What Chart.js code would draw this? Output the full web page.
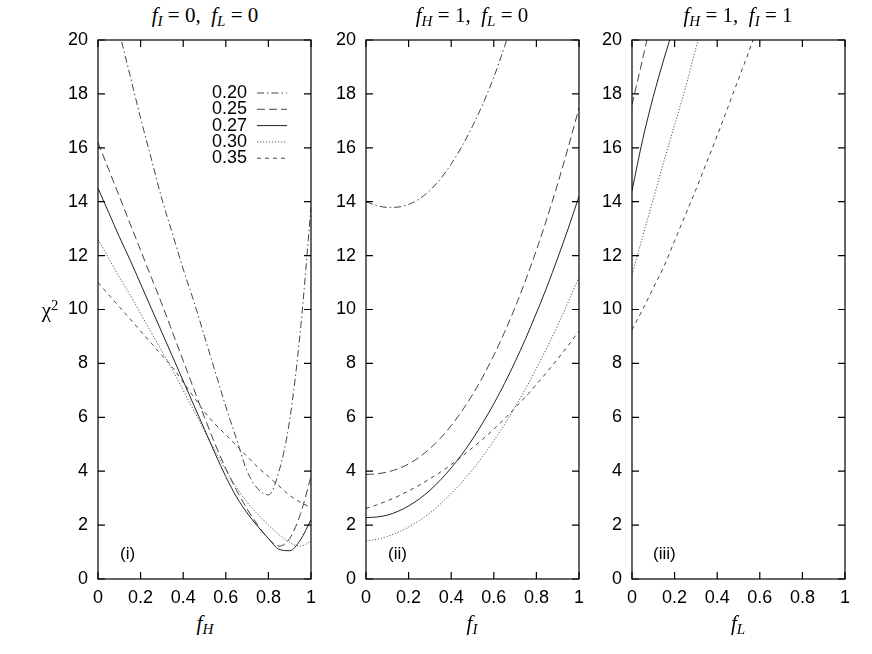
<!DOCTYPE html>
<html>
<head>
<meta charset="utf-8">
<script src="https://cdn.jsdelivr.net/npm/chart.js@4.4.1/dist/chart.umd.min.js"></script>
<style>
  html, body { margin: 0; padding: 0; background: #fff; }
  #wrap { position: relative; width: 872px; height: 654px; overflow: hidden; }
  #wrap canvas { position: absolute; top: 30px; }
  .lbl { position: absolute; transform: translate(-50%, -50%); white-space: nowrap; line-height: 1;
         font-family: "Liberation Serif", "DejaVu Serif", serif; font-size: 21px; color: #000; }
  .lbl sub { font-size: 0.72em; vertical-align: -0.32em; line-height: 0; }
  .lbl sup { font-size: 0.7em; vertical-align: 0.45em; line-height: 0; }
  .tag { position: absolute; transform: translate(0, -50%); line-height: 1;
         font-family: "Liberation Sans", Arial, sans-serif; font-size: 17px; color: #000; }
</style>
</head>
<body>
<div id="wrap">
  <canvas id="c1" width="273" height="579" style="left:53px"></canvas>
  <canvas id="c2" width="273" height="579" style="left:321px"></canvas>
  <canvas id="c3" width="273" height="579" style="left:587px"></canvas>

  <div class="lbl" style="left:205px;top:15px"><i>f</i><sub><i>I</i></sub> = 0,&nbsp; <i>f</i><sub><i>L</i></sub> = 0</div>
  <div class="lbl" style="left:472px;top:15px"><i>f</i><sub><i>H</i></sub> = 1,&nbsp; <i>f</i><sub><i>L</i></sub> = 0</div>
  <div class="lbl" style="left:738px;top:15px"><i>f</i><sub><i>H</i></sub> = 1,&nbsp; <i>f</i><sub><i>I</i></sub> = 1</div>

  <div class="lbl" style="left:205px;top:623px"><i>f</i><sub><i>H</i></sub></div>
  <div class="lbl" style="left:472px;top:623px"><i>f</i><sub><i>I</i></sub></div>
  <div class="lbl" style="left:738px;top:623px"><i>f</i><sub><i>L</i></sub></div>

  <div class="lbl" style="left:50px;top:310px">&chi;<sup>2</sup></div>

  <div class="tag" style="left:120px;top:553px">(i)</div>
  <div class="tag" style="left:388px;top:553px">(ii)</div>
  <div class="tag" style="left:653px;top:553px">(iii)</div>
</div>
<script>
// x positions shared by every curve
const xs = [0, 0.05, 0.1, 0.15, 0.2, 0.25, 0.3, 0.35, 0.4, 0.45, 0.5,
            0.55, 0.6, 0.65, 0.7, 0.75, 0.8, 0.85, 0.9, 0.95, 1];

// panel (i): chi2 vs f_H
const fH_020 = [23.6, 22.0, 20.3, 18.7, 17.1, 15.6, 14.1, 12.8, 11.5, 10.3, 9.0, 7.7, 6.4, 5.2, 4.0, 3.35, 3.12, 4.0, 5.9, 9.2, 13.8];
const fH_025 = [16.2, 15.2, 14.2, 13.2, 12.2, 11.2, 10.2, 9.15, 8.1, 7.05, 6.0, 5.0, 4.1, 3.3, 2.6, 2.0, 1.5, 1.22, 1.5, 2.4, 3.8];
const fH_027 = [14.5, 13.6, 12.7, 11.85, 10.95, 10.05, 9.15, 8.25, 7.35, 6.45, 5.55, 4.65, 3.8, 3.05, 2.45, 1.95, 1.5, 1.1, 1.05, 1.45, 2.2];
const fH_030 = [12.6, 11.9, 11.2, 10.55, 9.85, 9.15, 8.45, 7.75, 7.0, 6.25, 5.5, 4.75, 4.05, 3.4, 2.85, 2.4, 2.0, 1.65, 1.35, 1.22, 1.4];
const fH_035 = [11.0, 10.55, 10.1, 9.65, 9.2, 8.75, 8.3, 7.85, 7.3, 6.75, 6.2, 5.75, 5.35, 4.95, 4.55, 4.15, 3.8, 3.45, 3.1, 2.85, 2.65];

// panel (ii): chi2 vs f_I
const fI_020 = [14.0, 13.86, 13.79, 13.8, 13.9, 14.1, 14.42, 14.85, 15.4, 16.05, 16.8, 17.65, 18.62, 19.75, 21.0, null, null, null, null, null, null];
const fI_025 = [3.88, 3.9, 3.97, 4.09, 4.27, 4.52, 4.84, 5.23, 5.69, 6.23, 6.84, 7.53, 8.3, 9.15, 10.08, 11.1, 12.2, 13.39, 14.67, 16.03, 17.48];
const fI_027 = [2.28, 2.3, 2.37, 2.51, 2.71, 2.97, 3.29, 3.68, 4.12, 4.62, 5.19, 5.82, 6.5, 7.25, 8.06, 8.93, 9.87, 10.85, 11.91, 13.02, 14.2];
const fI_030 = [1.41, 1.47, 1.58, 1.73, 1.93, 2.17, 2.45, 2.79, 3.17, 3.59, 4.06, 4.57, 5.13, 5.73, 6.38, 7.07, 7.81, 8.59, 9.41, 10.29, 11.2];
const fI_035 = [2.62, 2.75, 2.9, 3.07, 3.27, 3.48, 3.72, 3.97, 4.25, 4.55, 4.87, 5.2, 5.56, 5.94, 6.35, 6.77, 7.22, 7.68, 8.17, 8.67, 9.2];

// panel (iii): chi2 vs f_L (0.20 curve lies above the plotted range)
const fL_025 = [17.6, 19.3, 21.1, 23.0, null, null, null, null, null, null, null, null, null, null, null, null, null, null, null, null, null];
const fL_027 = [14.4, 16.3, 17.9, 19.3, 20.6, 22.0, null, null, null, null, null, null, null, null, null, null, null, null, null, null, null];
const fL_030 = [11.3, 12.7, 14.1, 15.5, 16.85, 18.2, 19.7, 21.1, null, null, null, null, null, null, null, null, null, null, null, null, null];
const fL_035 = [9.25, 10.0, 10.8, 11.6, 12.55, 13.5, 14.45, 15.45, 16.45, 17.5, 18.55, 19.6, 20.7, null, null, null, null, null, null, null, null];

const styles = {
  '0.20': { borderColor: '#444', borderDash: [7, 3, 1.5, 3] },
  '0.25': { borderColor: '#444', borderDash: [8, 4] },
  '0.27': { borderColor: '#222', borderDash: [] },
  '0.30': { borderColor: '#555', borderDash: [1.2, 1.8] },
  '0.35': { borderColor: '#444', borderDash: [4, 4] }
};

const tickFont = { family: '"Liberation Sans", Arial, sans-serif', size: 18 };

const pts = arr => xs.map((x, i) => ({ x: x, y: arr[i] }));

const mkSet = (label, arr) => ({
  label: label,
  data: pts(arr),
  borderWidth: 1,
  borderColor: styles[label].borderColor,
  borderDash: styles[label].borderDash,
  pointRadius: 0,
  fill: false,
  cubicInterpolationMode: 'monotone'
});

// frame round the plot with gnuplot-like inward ticks on all four sides
const framePlugin = {
  id: 'frame',
  afterDraw(chart) {
    const { ctx, chartArea: a, scales } = chart;
    const len = 7;
    ctx.save();
    ctx.strokeStyle = '#000';
    ctx.lineWidth = 1.2;
    ctx.setLineDash([]);
    ctx.strokeRect(a.left, a.top, a.right - a.left, a.bottom - a.top);
    ctx.beginPath();
    scales.x.ticks.forEach(t => {
      const px = scales.x.getPixelForValue(t.value);
      ctx.moveTo(px, a.bottom); ctx.lineTo(px, a.bottom - len);
      ctx.moveTo(px, a.top); ctx.lineTo(px, a.top + len);
    });
    scales.y.ticks.forEach(t => {
      const py = scales.y.getPixelForValue(t.value);
      ctx.moveTo(a.left, py); ctx.lineTo(a.left + len, py);
      ctx.moveTo(a.right, py); ctx.lineTo(a.right - len, py);
    });
    ctx.stroke();
    ctx.restore();
  }
};

// key drawn inside the first panel, text then line sample
const keyPlugin = {
  id: 'key',
  afterDatasetsDraw(chart, args, opts) {
    if (!opts.show) return;
    const { ctx, chartArea: a } = chart;
    ctx.save();
    ctx.font = '18px "Liberation Sans", Arial, sans-serif';
    ctx.fillStyle = '#000';
    ctx.textAlign = 'right';
    ctx.textBaseline = 'middle';
    chart.data.datasets.forEach((ds, i) => {
      const yy = a.top + opts.top + i * opts.step;
      ctx.fillText(ds.label, a.left + opts.textRight, yy);
      ctx.beginPath();
      ctx.strokeStyle = ds.borderColor;
      ctx.lineWidth = ds.borderWidth;
      ctx.setLineDash(ds.borderDash);
      ctx.moveTo(a.left + opts.lineFrom, yy);
      ctx.lineTo(a.left + opts.lineTo, yy);
      ctx.stroke();
    });
    ctx.restore();
  }
};

function makeOptions(showKey) {
  return {
    responsive: false,
    animation: false,
    layout: { padding: { top: 10, right: 15, left: 0, bottom: 0 } },
    plugins: {
      legend: { display: false },
      tooltip: { enabled: false },
      key: { show: showKey, top: 53, step: 16.3, textRight: 149, lineFrom: 159, lineTo: 189 }
    },
    scales: {
      x: {
        type: 'linear', min: 0, max: 1,
        grid: { display: false, drawTicks: false },
        border: { display: false },
        ticks: {
          stepSize: 0.2, padding: 8, color: '#000', font: tickFont, maxRotation: 0, autoSkip: false,
          callback: v => String(Math.round(v * 10) / 10)
        },
        afterFit: s => { s.height = 30; s.paddingLeft = 0; s.paddingRight = 0; }
      },
      y: {
        min: 0, max: 20,
        grid: { display: false, drawTicks: false },
        border: { display: false },
        ticks: { stepSize: 2, padding: 10, color: '#000', font: tickFont },
        afterFit: s => { s.width = 45; s.paddingTop = 0; s.paddingBottom = 0; }
      }
    }
  };
}

new Chart(document.getElementById('c1'), {
  type: 'line',
  data: { datasets: [mkSet('0.20', fH_020), mkSet('0.25', fH_025), mkSet('0.27', fH_027), mkSet('0.30', fH_030), mkSet('0.35', fH_035)] },
  options: makeOptions(true),
  plugins: [framePlugin, keyPlugin]
});

new Chart(document.getElementById('c2'), {
  type: 'line',
  data: { datasets: [mkSet('0.20', fI_020), mkSet('0.25', fI_025), mkSet('0.27', fI_027), mkSet('0.30', fI_030), mkSet('0.35', fI_035)] },
  options: makeOptions(false),
  plugins: [framePlugin, keyPlugin]
});

new Chart(document.getElementById('c3'), {
  type: 'line',
  data: { datasets: [mkSet('0.25', fL_025), mkSet('0.27', fL_027), mkSet('0.30', fL_030), mkSet('0.35', fL_035)] },
  options: makeOptions(false),
  plugins: [framePlugin, keyPlugin]
});
</script>
</body>
</html>
